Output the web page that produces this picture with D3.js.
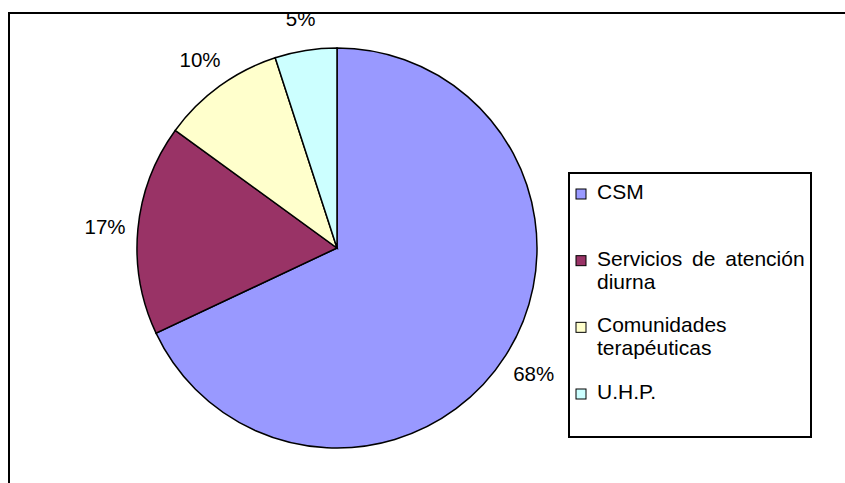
<!DOCTYPE html>
<meta charset="utf-8">
<style>
body { margin: 0; background: #fff; }
text { font-family: Arial, "Liberation Sans", sans-serif; fill: #000; }
</style>
<body>
<script src="https://cdn.jsdelivr.net/npm/d3@7"></script>
<script>

// data
var categories = ["CSM", "Servicios de atención diurna", "Comunidades terapéuticas", "U.H.P."];
var legendLines = [["CSM"], ["Servicios de atención", "diurna"], ["Comunidades", "terapéuticas"], ["U.H.P."]];
var values = [68, 17, 10, 5];
var colors = ["#9999ff", "#993366", "#ffffcc", "#ccffff"];

var width = 845, height = 483;
var cx = 337, cy = 248, radius = 200;

var svg = d3.select("body").append("svg")
    .attr("width", width)
    .attr("height", height);

// outer chart frame (runs off the right and bottom edges)
svg.append("rect")
    .attr("x", 9).attr("y", 13)
    .attr("width", 860).attr("height", 500)
    .attr("fill", "none")
    .attr("stroke", "#000")
    .attr("stroke-width", 2);

var pie = d3.pie().sort(null).value(function(d) { return d; });
var arcs = pie(values);

var arc = d3.arc().innerRadius(0).outerRadius(radius);
var labelArc = d3.arc().innerRadius(233).outerRadius(233);

var g = svg.append("g")
    .attr("transform", "translate(" + cx + "," + cy + ")");

g.selectAll("path")
    .data(arcs)
  .enter().append("path")
    .attr("d", arc)
    .attr("fill", function(d, i) { return colors[i]; })
    .attr("stroke", "#000")
    .attr("stroke-width", 1.5);

var total = d3.sum(values);
g.selectAll("text.lbl")
    .data(arcs)
  .enter().append("text")
    .attr("class", "lbl")
    .attr("transform", function(d) { return "translate(" + labelArc.centroid(d) + ")"; })
    .attr("text-anchor", "middle")
    .attr("dy", "0.38em")
    .attr("font-size", "20.5px")
    .text(function(d) { return Math.round(d.value / total * 100) + "%"; });

// legend
var legend = svg.append("g");
legend.append("rect")
    .attr("x", 569).attr("y", 173)
    .attr("width", 242).attr("height", 264)
    .attr("fill", "#fff")
    .attr("stroke", "#000")
    .attr("stroke-width", 2);

var ly = d3.scalePoint().domain(categories).range([199, 399]);

var item = legend.selectAll("g.item")
    .data(categories)
  .enter().append("g")
    .attr("class", "item")
    .attr("transform", function(d) { return "translate(0," + ly(d) + ")"; });

item.append("rect")
    .attr("x", 576).attr("y", -10)
    .attr("width", 10).attr("height", 10)
    .attr("fill", function(d, i) { return colors[i]; })
    .attr("stroke", "#000")
    .attr("stroke-width", 1);

item.append("text")
    .attr("x", 597)
    .attr("font-size", "21px")
    .attr("word-spacing", "4px")
    .selectAll("tspan")
    .data(function(d, i) { return legendLines[i]; })
  .enter().append("tspan")
    .attr("x", 597)
    .attr("dy", function(d, j) { return j === 0 ? 0 : 23; })
    .text(function(d) { return d; });

</script>
</body>
